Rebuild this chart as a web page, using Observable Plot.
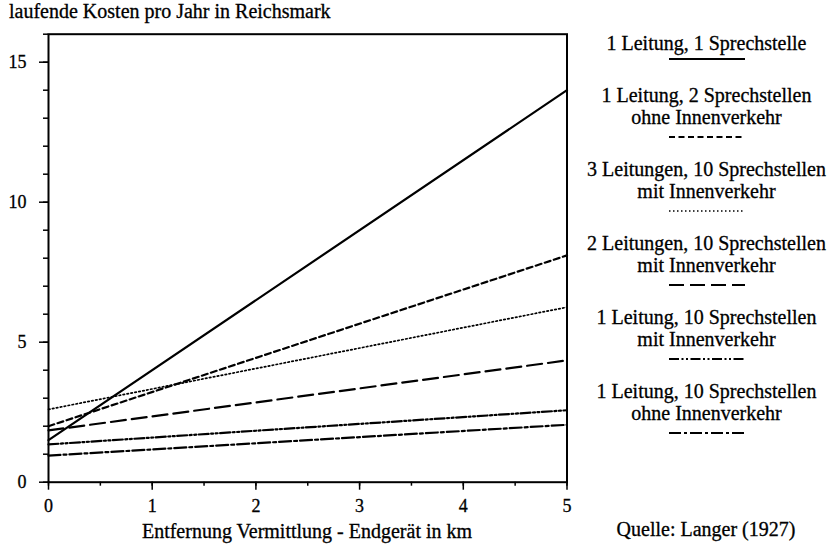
<!DOCTYPE html>
<html><head><meta charset="utf-8">
<script src="https://cdn.jsdelivr.net/npm/d3@7"></script>
<script src="https://cdn.jsdelivr.net/npm/@observablehq/plot@0.6"></script>
<style>
body{margin:0;background:#fff;}
#wrap{position:relative;width:833px;height:545px;font-family:"Liberation Serif",serif;color:#000;background:#fff;}
#wrap > svg{position:absolute;left:0;top:0;}
#wrap > svg text{stroke:#000;stroke-width:0.3px;}
.t{position:absolute;white-space:nowrap;font-size:20px;line-height:20px;-webkit-text-stroke:0.3px #000;}
#legend{position:absolute;left:580px;top:32px;width:253px;text-align:center;font-size:20px;line-height:22px;-webkit-text-stroke:0.3px #000;}
#legend .entry{margin-bottom:16px;}
#legend svg.sample{position:static;display:block;margin:0 auto;}
</style></head><body><div id="wrap"></div>
<script>
// ---- data ----
const seriesNames = [
  "1 Leitung, 1 Sprechstelle",
  "1 Leitung, 2 Sprechstellen ohne Innenverkehr",
  "3 Leitungen, 10 Sprechstellen mit Innenverkehr",
  "2 Leitungen, 10 Sprechstellen mit Innenverkehr",
  "1 Leitung, 10 Sprechstellen mit Innenverkehr",
  "1 Leitung, 10 Sprechstellen ohne Innenverkehr"
];
const legendLine1 = [
  "1 Leitung, 1 Sprechstelle",
  "1 Leitung, 2 Sprechstellen",
  "3 Leitungen, 10 Sprechstellen",
  "2 Leitungen, 10 Sprechstellen",
  "1 Leitung, 10 Sprechstellen",
  "1 Leitung, 10 Sprechstellen"
];
const legendLine2 = [
  "",
  "ohne Innenverkehr",
  "mit Innenverkehr",
  "mit Innenverkehr",
  "mit Innenverkehr",
  "ohne Innenverkehr"
];
const distancesKm = [0, 5];
const costAt0km = [1.5, 2.0, 2.6, 1.85, 1.35, 0.95];
const costAt5km = [14.0, 8.1, 6.25, 4.35, 2.57, 2.05];
const xTicks = [0, 1, 2, 3, 4, 5];
const xMinorTicks = [0, 0.5, 1, 1.5, 2, 2.5, 3, 3.5, 4, 4.5, 5];
const yTicks = [0, 5, 10, 15];
const yMinorTicks = [0, 1, 2, 3, 4, 5, 6, 7, 8, 9, 10, 11, 12, 13, 14, 15, 16];
const titleText = "laufende Kosten pro Jahr in Reichsmark";
const xLabelText = "Entfernung Vermittlung - Endgerät in km";
const sourceText = "Quelle: Langer (1927)";

// ---- styles ----
const dashes = [null, "6,3.5", "1.5,2.5", "15,6", "10,2.5,2,2.5,2,2.5", "12,3,3,3"];
const widths = [2.2, 2.2, 1.7, 2.2, 2.2, 2.2];

const rows = seriesNames.flatMap((name, i) => [
  {name, km: distancesKm[0], cost: costAt0km[i]},
  {name, km: distancesKm[1], cost: costAt5km[i]}
]);

const plot = Plot.plot({
  width: 833, height: 545,
  marginLeft: 48, marginRight: 266.5, marginTop: 33.7, marginBottom: 63.3,
  style: {fontFamily: "Liberation Serif", fontSize: "18px", color: "black", background: "transparent", overflow: "visible"},
  x: {domain: [0, 5], label: null},
  y: {domain: [0, 16], label: null},
  marks: [
    ...seriesNames.map((name, i) => Plot.line(rows.filter(d => d.name === name), {
      x: "km", y: "cost", stroke: "black", strokeWidth: widths[i],
      strokeDasharray: dashes[i] || undefined
    })),
    Plot.axisY(yMinorTicks, {tickSize: 5, tickFormat: () => "", strokeWidth: 1.5, label: null}),
    Plot.axisY(yTicks, {tickSize: 9, tickPadding: 13, strokeWidth: 1.5, label: null}),
    Plot.axisX(xMinorTicks, {tickSize: 4, tickFormat: () => "", strokeWidth: 1.5, label: null}),
    Plot.axisX(xTicks, {tickSize: 8, tickPadding: 9, strokeWidth: 1.5, label: null}),
    Plot.frame({stroke: "black", strokeWidth: 2})
  ]
});

const wrap = document.getElementById("wrap");
wrap.appendChild(plot);

function addText(txt, css) {
  const d = document.createElement("div");
  d.className = "t";
  d.textContent = txt;
  Object.assign(d.style, css);
  wrap.appendChild(d);
  return d;
}
addText(titleText, {left: "9px", top: "1px"});
addText(xLabelText, {left: "307px", top: "521px", transform: "translateX(-50%)"});
addText(sourceText, {left: "706px", top: "519px", transform: "translateX(-50%)"});

const legend = document.createElement("div");
legend.id = "legend";
seriesNames.forEach((name, i) => {
  const e = document.createElement("div");
  e.className = "entry";
  const l1 = document.createElement("div"); l1.textContent = legendLine1[i]; e.appendChild(l1);
  if (legendLine2[i]) { const l2 = document.createElement("div"); l2.textContent = legendLine2[i]; e.appendChild(l2); }
  const s = d3.create("svg").attr("class", "sample").attr("width", 76).attr("height", 14);
  s.append("line").attr("x1", 0).attr("x2", 76).attr("y1", i === 0 ? 5 : 9).attr("y2", i === 0 ? 5 : 9)
    .attr("stroke", "black").attr("stroke-width", widths[i])
    .attr("stroke-dasharray", dashes[i]);
  e.appendChild(s.node());
  legend.appendChild(e);
});
wrap.appendChild(legend);
</script>
</body></html>
